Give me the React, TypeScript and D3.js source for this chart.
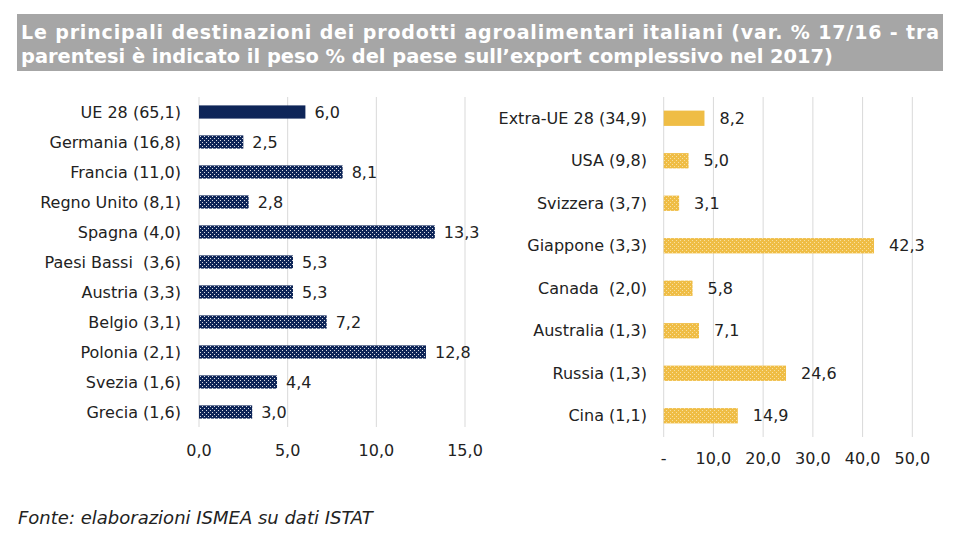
import React from "react";
import * as d3 from "d3";

const euCategories = [
  "UE 28 (65,1)", "Germania (16,8)", "Francia (11,0)", "Regno Unito (8,1)", "Spagna (4,0)",
  "Paesi Bassi  (3,6)", "Austria (3,3)", "Belgio (3,1)", "Polonia (2,1)", "Svezia (1,6)", "Grecia (1,6)",
];
const euValues = [6.0, 2.5, 8.1, 2.8, 13.3, 5.3, 5.3, 7.2, 12.8, 4.4, 3.0];
const euTicks = [0, 5, 10, 15];

const extraCategories = [
  "Extra-UE 28 (34,9)", "USA (9,8)", "Svizzera (3,7)", "Giappone (3,3)",
  "Canada  (2,0)", "Australia (1,3)", "Russia (1,3)", "Cina (1,1)",
];
const extraValues = [8.2, 5.0, 3.1, 42.3, 5.8, 7.1, 24.6, 14.9];
const extraTicks = [0, 10, 20, 30, 40, 50];

const titleLine1 = "Le principali destinazioni dei prodotti agroalimentari italiani (var. % 17/16 - tra";
const titleLine2 = "parentesi è indicato il peso % del paese sull\u2019export complessivo nel 2017)";
const source = "Fonte: elaborazioni ISMEA su dati ISTAT";

const NAVY = "#0e2558";
const GOLD = "#efbd45";
const FONT = "'DejaVu Sans', sans-serif";
const FS = 16;
const fmt = (v: number) => v.toFixed(1).replace(".", ",");

function Panel(props: {
  cats: string[]; vals: number[]; ticks: number[]; x0: number; x1: number; dmax: number;
  y0: number; y1: number; color: string; pattern: string; barH: number; labelOffset: number;
  tickY: number; zeroDash: boolean; labelRight: number;
}) {
  const { cats, vals, ticks, x0, x1, dmax, y0, y1, color, pattern, labelOffset, tickY, zeroDash, labelRight } = props;
  const x = d3.scaleLinear().domain([0, dmax]).range([x0, x1]);
  const y = d3.scaleBand<string>().domain(cats).range([y0, y1]).paddingInner(props.barH).paddingOuter(props.barH / 2);
  return (
    <g>
      {ticks.map((t) => (
        <line key={"g" + t} x1={x(t)} x2={x(t)} y1={y0} y2={y1} stroke="#d9d9d9" strokeWidth={1} />
      ))}
      {cats.map((c, i) => (
        <g key={c}>
          <rect x={x(0)} y={y(c)!} width={x(vals[i]) - x(0)} height={y.bandwidth()}
            fill={i === 0 ? color : `url(#${pattern})`} />
          <text x={x(vals[i]) + labelOffset} y={y(c)! + y.bandwidth() / 2} dominantBaseline="central"
            fontSize={FS} fontFamily={FONT} fill="#222">{fmt(vals[i])}</text>
          <text x={labelRight} y={y(c)! + y.bandwidth() / 2} dominantBaseline="central" textAnchor="end"
            fontSize={FS} fontFamily={FONT} fill="#222" style={{ whiteSpace: "pre" }}>{c}</text>
        </g>
      ))}
      {ticks.map((t) => (
        <text key={"t" + t} x={x(t)} y={tickY} textAnchor="middle" dominantBaseline="central"
          fontSize={FS} fontFamily={FONT} fill="#222">{t === 0 && zeroDash ? "-" : fmt(t)}</text>
      ))}
    </g>
  );
}

export default function App() {
  return (
    <svg width={965} height={536} style={{ position: "absolute", left: 0, top: 0, background: "#fff" }}>
      <defs>
        <pattern id="dotsNavy" width={4} height={4} patternUnits="userSpaceOnUse">
          <rect width={4} height={4} fill={NAVY} />
          <rect x={0} y={0} width={1} height={1} fill="#ffffff" opacity={0.85} />
          <rect x={2} y={2} width={1} height={1} fill="#ffffff" opacity={0.85} />
        </pattern>
        <pattern id="dotsGold" width={4} height={4} patternUnits="userSpaceOnUse">
          <rect width={4} height={4} fill={GOLD} />
          <rect x={0} y={0} width={1} height={1} fill="#f9e0a0" />
          <rect x={2} y={2} width={1} height={1} fill="#f9e0a0" />
        </pattern>
      </defs>
      <rect x={17} y={14} width={926} height={57} fill="#a6a6a6" />
      <text x={21} y={39} fontSize={19} fontWeight="bold" fontFamily={FONT} fill="#fff"
        textLength={918} lengthAdjust="spacing">{titleLine1}</text>
      <text x={21} y={63} fontSize={19} fontWeight="bold" fontFamily={FONT} fill="#fff"
        textLength={812} lengthAdjust="spacingAndGlyphs">{titleLine2}</text>

      <Panel cats={euCategories} vals={euValues} ticks={euTicks} x0={199} x1={465} dmax={15}
        y0={97} y1={427} color={NAVY} pattern="dotsNavy" barH={0.56} labelOffset={9}
        tickY={450} zeroDash={false} labelRight={181} />
      <Panel cats={extraCategories} vals={extraValues} ticks={extraTicks} x0={663.7} x1={912.3} dmax={50}
        y0={97} y1={437} color={GOLD} pattern="dotsGold" barH={0.64} labelOffset={15}
        tickY={458} zeroDash={true} labelRight={647} />

      <text x={18} y={524} fontSize={18} fontStyle="italic" fontFamily={FONT} fill="#222">{source}</text>
    </svg>
  );
}
